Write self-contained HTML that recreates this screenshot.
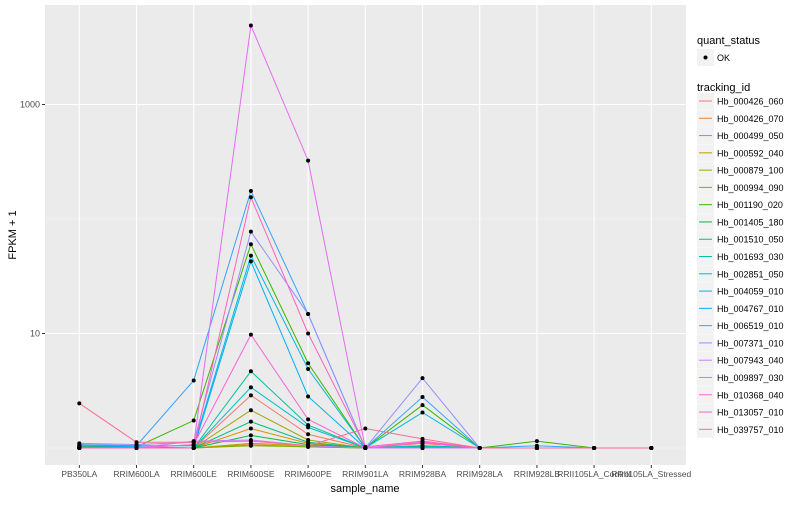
<!DOCTYPE html>
<html><head><meta charset="utf-8"><style>
body{margin:0;background:#fff;font-family:"Liberation Sans",sans-serif;}
svg text{font-family:"Liberation Sans",sans-serif;}
</style></head><body>
<svg id="chart" width="800" height="500">
<rect x="45" y="5" width="641" height="460" fill="#ebebeb"/>
<g id="grid"></g><g id="series"></g><g id="axes"></g><g id="legend"></g>
</svg>
<script>
const categories=["PB350LA","RRIM600LA","RRIM600LE","RRIM600SE","RRIM600PE","RRIM901LA","RRIM928BA","RRIM928LA","RRIM928LB","RRII105LA_Control","RRII105LA_Stressed"];
const seriesNames=["Hb_000426_060","Hb_000426_070","Hb_000499_050","Hb_000592_040","Hb_000879_100","Hb_000994_090","Hb_001190_020","Hb_001405_180","Hb_001510_050","Hb_001693_030","Hb_002851_050","Hb_004059_010","Hb_004767_010","Hb_006519_010","Hb_007371_010","Hb_007943_040","Hb_009897_030","Hb_010368_040","Hb_013057_010","Hb_039757_010"];
const seriesColors=["#F8766D","#EA8331","#D89000","#C09B00","#A3A500","#7CAE00","#39B600","#00BB4E","#00BF7D","#00C1A3","#00BFC4","#00BAE0","#00B0F6","#35A2FF","#9590FF","#C77CFF","#E76BF3","#FA62DB","#FF62BC","#FF6C91"];
// FPKM+1 values (log10 of value), one array per series
const s01=[0.01,0.01,0.0,0.46,0.12,0.0,0.04,0.0,0.0,0.0,0.0];
const s02=[0.0,0.0,0.0,0.03,0.01,0.0,0.0,0.0,0.0,0.0,0.0];
const s03=[0.0,0.0,0.0,0.17,0.04,0.0,0.01,0.0,0.0,0.0,0.0];
const s04=[0.0,0.0,0.0,0.04,0.02,0.0,0.0,0.0,0.0,0.0,0.0];
const s05=[0.0,0.0,0.0,0.33,0.07,0.0,0.02,0.0,0.0,0.0,0.0];
const s06=[0.0,0.0,0.0,0.02,0.01,0.0,0.0,0.0,0.0,0.0,0.0];
const s07=[0.01,0.01,0.24,1.78,0.74,0.0,0.375,0.0,0.06,0.0,0.0];
const s08=[0.0,0.0,0.0,0.11,0.03,0.0,0.01,0.0,0.0,0.0,0.0];
const s09=[0.0,0.0,0.0,0.23,0.05,0.0,0.02,0.0,0.0,0.0,0.0];
const s10=[0.0,0.0,0.0,0.67,0.2,0.0,0.01,0.0,0.0,0.0,0.0];
const s11=[0.0,0.0,0.0,0.53,0.18,0.0,0.02,0.0,0.0,0.0,0.0];
const s12=[0.02,0.02,0.02,1.68,0.69,0.0,0.31,0.0,0.0,0.0,0.0];
const s13=[0.02,0.01,0.0,1.63,0.45,0.0,0.0,0.0,0.0,0.0,0.0];
const s14=[0.03,0.02,0.59,2.245,1.17,0.0,0.445,0.0,0.02,0.0,0.0];
const s15=[0.04,0.03,0.05,1.89,1.17,0.0,0.61,0.0,0.0,0.0,0.0];
const s16=[0.0,0.0,0.06,0.07,0.02,0.0,0.0,0.0,0.0,0.0,0.0];
const s17=[0.0,0.0,0.03,3.69,2.51,0.0,0.05,0.0,0.0,0.0,0.0];
const s18=[0.0,0.0,0.03,0.99,0.25,0.0,0.05,0.0,0.0,0.0,0.0];
const s19=[0.0,0.0,0.0,2.19,1.0,0.01,0.06,0.0,0.0,0.0,0.0];
const s20=[0.39,0.05,0.05,0.06,0.02,0.17,0.08,0.0,0.0,0.0,0.0];
const allSeries=[s01,s02,s03,s04,s05,s06,s07,s08,s09,s10,s11,s12,s13,s14,s15,s16,s17,s18,s19,s20];
const yTickValues=[10,1000];
const yTickLabels=["10","1000"];
const yMinorLogs=[0,2];

const NS="http://www.w3.org/2000/svg";
function mk(tag,attrs,parent){const e=document.createElementNS(NS,tag);for(const k in attrs)e.setAttribute(k,attrs[k]);parent.appendChild(e);return e;}
const xScale=i=>79.3+57.2*i;
const yScale=l=>448-l*114.5;
const grid=document.getElementById('grid'),ser=document.getElementById('series'),axes=document.getElementById('axes'),leg=document.getElementById('legend');
yMinorLogs.forEach(l=>{const g=mk('line',{x1:45,x2:686,y1:yScale(l),y2:yScale(l),stroke:'#f5f5f5','stroke-width':0.6},grid);

});
yTickValues.forEach((v,i)=>{const y=yScale(Math.log10(v));
const g=mk('line',{x1:45,x2:686,y1:y,y2:y,stroke:'#fff','stroke-width':1.1},grid);


mk('line',{x1:42,x2:45,y1:y,y2:y,stroke:'#333','stroke-width':1},axes);
const t=mk('text',{x:40,y:y+3,'text-anchor':'end','font-size':9,fill:'#4d4d4d'},axes);t.textContent=yTickLabels[i];

});
categories.forEach((c,i)=>{const x=xScale(i);
const g=mk('line',{x1:x,x2:x,y1:5,y2:465,stroke:'#fff','stroke-width':1.1},grid);


mk('line',{x1:x,x2:x,y1:465,y2:468,stroke:'#333','stroke-width':1},axes);
const t=mk('text',{x:x,y:477,'text-anchor':'middle','font-size':8.5,fill:'#4d4d4d'},axes);t.textContent=c;

});
allSeries.forEach((s,k)=>{const pts=s.map((v,i)=>xScale(i)+','+yScale(v)).join(' ');
const p=mk('polyline',{points:pts,fill:'none',stroke:seriesColors[k],'stroke-width':1},ser);

});
allSeries.forEach((s,k)=>{s.forEach((v,i)=>{const c=mk('circle',{cx:xScale(i),cy:yScale(v),r:2,fill:'#000'},ser);

});});
const xt=mk('text',{x:365,y:492,'text-anchor':'middle','font-size':11,fill:'#000'},axes);xt.textContent='sample_name';


const yt=mk('text',{x:16,y:235,'text-anchor':'middle','font-size':11,fill:'#000',transform:'rotate(-90 16 235)'},axes);yt.textContent='FPKM + 1';


// legend
const lt1=mk('text',{x:697,y:44,'font-size':11,fill:'#000'},leg);lt1.textContent='quant_status';


mk('rect',{x:697,y:49,width:17,height:17,fill:'#f2f2f2'},leg);
mk('circle',{cx:705.5,cy:57.5,r:2,fill:'#000'},leg);
const ok=mk('text',{x:717,y:61,'font-size':9,fill:'#000'},leg);ok.textContent='OK';


const lt2=mk('text',{x:697,y:91,'font-size':11,fill:'#000'},leg);lt2.textContent='tracking_id';


seriesNames.forEach((n,k)=>{const y=101+k*17.28;
mk('rect',{x:697,y:y-8.5,width:17,height:17,fill:'#f2f2f2'},leg);
mk('line',{x1:699,x2:712,y1:y,y2:y,stroke:seriesColors[k],'stroke-width':1},leg);
const t=mk('text',{x:717,y:y+3.5,'font-size':9,fill:'#000'},leg);t.textContent=n;

});
</script>
</body></html>
